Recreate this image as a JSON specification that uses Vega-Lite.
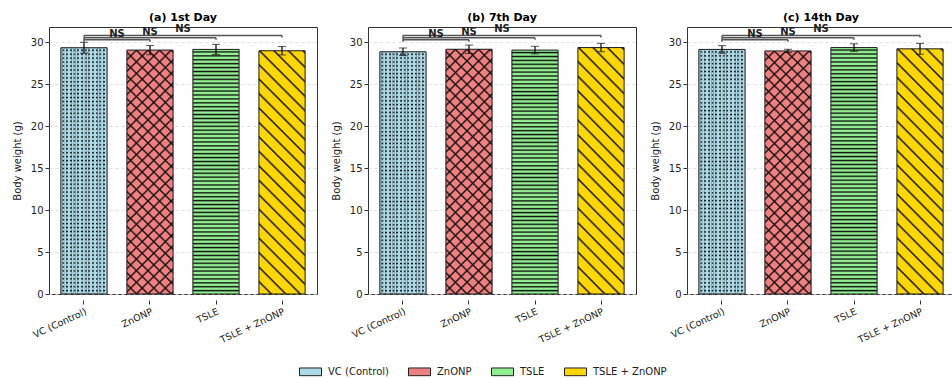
{
"$schema": "https://vega.github.io/schema/vega-lite/v6.json",
"padding": {"left": 11, "top": 12, "right": 0, "bottom": 0},
"background": "white",
"params": [
{"name": "gH", "value": {"gradient": "linear", "x1": 0, "y1": 0, "x2": 0, "y2": 1, "stops": [
{"offset":0,"color":"transparent"},{"offset":0.005,"color":"transparent"},{"offset":0.01,"color":"#111"},
{"offset":0.016,"color":"transparent"},{"offset":0.021,"color":"transparent"},{"offset":0.026,"color":"#111"},
{"offset":0.032,"color":"transparent"},{"offset":0.037,"color":"transparent"},{"offset":0.042,"color":"#111"},
{"offset":0.048,"color":"transparent"},{"offset":0.053,"color":"transparent"},{"offset":0.058,"color":"#111"},
{"offset":0.064,"color":"transparent"},{"offset":0.069,"color":"transparent"},{"offset":0.074,"color":"#111"},
{"offset":0.08,"color":"transparent"},{"offset":0.085,"color":"transparent"},{"offset":0.09,"color":"#111"},
{"offset":0.096,"color":"transparent"},{"offset":0.101,"color":"transparent"},{"offset":0.106,"color":"#111"},
{"offset":0.112,"color":"transparent"},{"offset":0.117,"color":"transparent"},{"offset":0.122,"color":"#111"},
{"offset":0.128,"color":"transparent"},{"offset":0.133,"color":"transparent"},{"offset":0.138,"color":"#111"},
{"offset":0.144,"color":"transparent"},{"offset":0.149,"color":"transparent"},{"offset":0.154,"color":"#111"},
{"offset":0.16,"color":"transparent"},{"offset":0.165,"color":"transparent"},{"offset":0.17,"color":"#111"},
{"offset":0.176,"color":"transparent"},{"offset":0.181,"color":"transparent"},{"offset":0.186,"color":"#111"},
{"offset":0.192,"color":"transparent"},{"offset":0.197,"color":"transparent"},{"offset":0.202,"color":"#111"},
{"offset":0.208,"color":"transparent"},{"offset":0.213,"color":"transparent"},{"offset":0.218,"color":"#111"},
{"offset":0.224,"color":"transparent"},{"offset":0.229,"color":"transparent"},{"offset":0.234,"color":"#111"},
{"offset":0.24,"color":"transparent"},{"offset":0.245,"color":"transparent"},{"offset":0.25,"color":"#111"},
{"offset":0.256,"color":"transparent"},{"offset":0.261,"color":"transparent"},{"offset":0.266,"color":"#111"},
{"offset":0.272,"color":"transparent"},{"offset":0.277,"color":"transparent"},{"offset":0.282,"color":"#111"},
{"offset":0.288,"color":"transparent"},{"offset":0.293,"color":"transparent"},{"offset":0.298,"color":"#111"},
{"offset":0.304,"color":"transparent"},{"offset":0.309,"color":"transparent"},{"offset":0.314,"color":"#111"},
{"offset":0.32,"color":"transparent"},{"offset":0.325,"color":"transparent"},{"offset":0.33,"color":"#111"},
{"offset":0.336,"color":"transparent"},{"offset":0.341,"color":"transparent"},{"offset":0.346,"color":"#111"},
{"offset":0.352,"color":"transparent"},{"offset":0.357,"color":"transparent"},{"offset":0.362,"color":"#111"},
{"offset":0.368,"color":"transparent"},{"offset":0.373,"color":"transparent"},{"offset":0.378,"color":"#111"},
{"offset":0.384,"color":"transparent"},{"offset":0.389,"color":"transparent"},{"offset":0.394,"color":"#111"},
{"offset":0.4,"color":"transparent"},{"offset":0.405,"color":"transparent"},{"offset":0.41,"color":"#111"},
{"offset":0.416,"color":"transparent"},{"offset":0.421,"color":"transparent"},{"offset":0.426,"color":"#111"},
{"offset":0.432,"color":"transparent"},{"offset":0.437,"color":"transparent"},{"offset":0.442,"color":"#111"},
{"offset":0.448,"color":"transparent"},{"offset":0.453,"color":"transparent"},{"offset":0.458,"color":"#111"},
{"offset":0.464,"color":"transparent"},{"offset":0.469,"color":"transparent"},{"offset":0.474,"color":"#111"},
{"offset":0.48,"color":"transparent"},{"offset":0.485,"color":"transparent"},{"offset":0.49,"color":"#111"},
{"offset":0.496,"color":"transparent"},{"offset":0.501,"color":"transparent"},{"offset":0.506,"color":"#111"},
{"offset":0.512,"color":"transparent"},{"offset":0.517,"color":"transparent"},{"offset":0.522,"color":"#111"},
{"offset":0.528,"color":"transparent"},{"offset":0.533,"color":"transparent"},{"offset":0.538,"color":"#111"},
{"offset":0.544,"color":"transparent"},{"offset":0.549,"color":"transparent"},{"offset":0.554,"color":"#111"},
{"offset":0.56,"color":"transparent"},{"offset":0.565,"color":"transparent"},{"offset":0.57,"color":"#111"},
{"offset":0.576,"color":"transparent"},{"offset":0.581,"color":"transparent"},{"offset":0.586,"color":"#111"},
{"offset":0.592,"color":"transparent"},{"offset":0.597,"color":"transparent"},{"offset":0.602,"color":"#111"},
{"offset":0.608,"color":"transparent"},{"offset":0.613,"color":"transparent"},{"offset":0.618,"color":"#111"},
{"offset":0.624,"color":"transparent"},{"offset":0.629,"color":"transparent"},{"offset":0.634,"color":"#111"},
{"offset":0.64,"color":"transparent"},{"offset":0.645,"color":"transparent"},{"offset":0.65,"color":"#111"},
{"offset":0.656,"color":"transparent"},{"offset":0.661,"color":"transparent"},{"offset":0.666,"color":"#111"},
{"offset":0.672,"color":"transparent"},{"offset":0.677,"color":"transparent"},{"offset":0.682,"color":"#111"},
{"offset":0.688,"color":"transparent"},{"offset":0.693,"color":"transparent"},{"offset":0.698,"color":"#111"},
{"offset":0.704,"color":"transparent"},{"offset":0.709,"color":"transparent"},{"offset":0.714,"color":"#111"},
{"offset":0.72,"color":"transparent"},{"offset":0.725,"color":"transparent"},{"offset":0.73,"color":"#111"},
{"offset":0.736,"color":"transparent"},{"offset":0.741,"color":"transparent"},{"offset":0.746,"color":"#111"},
{"offset":0.752,"color":"transparent"},{"offset":0.757,"color":"transparent"},{"offset":0.762,"color":"#111"},
{"offset":0.768,"color":"transparent"},{"offset":0.773,"color":"transparent"},{"offset":0.778,"color":"#111"},
{"offset":0.784,"color":"transparent"},{"offset":0.789,"color":"transparent"},{"offset":0.794,"color":"#111"},
{"offset":0.8,"color":"transparent"},{"offset":0.805,"color":"transparent"},{"offset":0.81,"color":"#111"},
{"offset":0.816,"color":"transparent"},{"offset":0.821,"color":"transparent"},{"offset":0.826,"color":"#111"},
{"offset":0.832,"color":"transparent"},{"offset":0.837,"color":"transparent"},{"offset":0.842,"color":"#111"},
{"offset":0.848,"color":"transparent"},{"offset":0.853,"color":"transparent"},{"offset":0.858,"color":"#111"},
{"offset":0.864,"color":"transparent"},{"offset":0.869,"color":"transparent"},{"offset":0.874,"color":"#111"},
{"offset":0.88,"color":"transparent"},{"offset":0.885,"color":"transparent"},{"offset":0.89,"color":"#111"},
{"offset":0.896,"color":"transparent"},{"offset":0.901,"color":"transparent"},{"offset":0.906,"color":"#111"},
{"offset":0.912,"color":"transparent"},{"offset":0.917,"color":"transparent"},{"offset":0.922,"color":"#111"},
{"offset":0.928,"color":"transparent"},{"offset":0.933,"color":"transparent"},{"offset":0.938,"color":"#111"},
{"offset":0.944,"color":"transparent"},{"offset":0.949,"color":"transparent"},{"offset":0.954,"color":"#111"},
{"offset":0.96,"color":"transparent"},{"offset":0.965,"color":"transparent"},{"offset":0.97,"color":"#111"},
{"offset":0.976,"color":"transparent"},{"offset":0.981,"color":"transparent"},{"offset":0.986,"color":"#111"},
{"offset":0.992,"color":"transparent"},{"offset":1,"color":"transparent"}
]}},
{"name": "gV", "value": {"gradient": "linear", "x1": 0, "y1": 0, "x2": 1, "y2": 0, "stops": [
{"offset":0,"color":"#add8e6"},{"offset":0.03,"color":"#add8e6"},{"offset":0.045,"color":"transparent"},{"offset":0.065,"color":"transparent"},
{"offset":0.08,"color":"#add8e6"},{"offset":0.11,"color":"#add8e6"},{"offset":0.125,"color":"transparent"},{"offset":0.145,"color":"transparent"},
{"offset":0.16,"color":"#add8e6"},{"offset":0.19,"color":"#add8e6"},{"offset":0.205,"color":"transparent"},{"offset":0.225,"color":"transparent"},
{"offset":0.24,"color":"#add8e6"},{"offset":0.27,"color":"#add8e6"},{"offset":0.285,"color":"transparent"},{"offset":0.305,"color":"transparent"},
{"offset":0.32,"color":"#add8e6"},{"offset":0.35,"color":"#add8e6"},{"offset":0.365,"color":"transparent"},{"offset":0.385,"color":"transparent"},
{"offset":0.4,"color":"#add8e6"},{"offset":0.43,"color":"#add8e6"},{"offset":0.445,"color":"transparent"},{"offset":0.465,"color":"transparent"},
{"offset":0.48,"color":"#add8e6"},{"offset":0.51,"color":"#add8e6"},{"offset":0.525,"color":"transparent"},{"offset":0.545,"color":"transparent"},
{"offset":0.56,"color":"#add8e6"},{"offset":0.59,"color":"#add8e6"},{"offset":0.605,"color":"transparent"},{"offset":0.625,"color":"transparent"},
{"offset":0.64,"color":"#add8e6"},{"offset":0.67,"color":"#add8e6"},{"offset":0.685,"color":"transparent"},{"offset":0.705,"color":"transparent"},
{"offset":0.72,"color":"#add8e6"},{"offset":0.75,"color":"#add8e6"},{"offset":0.765,"color":"transparent"},{"offset":0.785,"color":"transparent"},
{"offset":0.8,"color":"#add8e6"},{"offset":0.83,"color":"#add8e6"},{"offset":0.845,"color":"transparent"},{"offset":0.865,"color":"transparent"},
{"offset":0.88,"color":"#add8e6"},{"offset":0.91,"color":"#add8e6"},{"offset":0.925,"color":"transparent"},{"offset":0.945,"color":"transparent"},
{"offset":0.96,"color":"#add8e6"},{"offset":1,"color":"#add8e6"}
]}},
{"name": "gX", "value": {"gradient": "linear", "x1": 0, "y1": 1, "x2": 0.218, "y2": -0.148, "stops": [
{"offset":0,"color":"transparent"},{"offset":0.027,"color":"transparent"},{"offset":0.033,"color":"#111"},
{"offset":0.04,"color":"transparent"},{"offset":0.067,"color":"transparent"},{"offset":0.073,"color":"#111"},
{"offset":0.08,"color":"transparent"},{"offset":0.107,"color":"transparent"},{"offset":0.113,"color":"#111"},
{"offset":0.12,"color":"transparent"},{"offset":0.147,"color":"transparent"},{"offset":0.153,"color":"#111"},
{"offset":0.16,"color":"transparent"},{"offset":0.187,"color":"transparent"},{"offset":0.193,"color":"#111"},
{"offset":0.2,"color":"transparent"},{"offset":0.227,"color":"transparent"},{"offset":0.233,"color":"#111"},
{"offset":0.24,"color":"transparent"},{"offset":0.267,"color":"transparent"},{"offset":0.273,"color":"#111"},
{"offset":0.28,"color":"transparent"},{"offset":0.307,"color":"transparent"},{"offset":0.313,"color":"#111"},
{"offset":0.32,"color":"transparent"},{"offset":0.347,"color":"transparent"},{"offset":0.353,"color":"#111"},
{"offset":0.36,"color":"transparent"},{"offset":0.387,"color":"transparent"},{"offset":0.393,"color":"#111"},
{"offset":0.4,"color":"transparent"},{"offset":0.427,"color":"transparent"},{"offset":0.433,"color":"#111"},
{"offset":0.44,"color":"transparent"},{"offset":0.467,"color":"transparent"},{"offset":0.473,"color":"#111"},
{"offset":0.48,"color":"transparent"},{"offset":0.507,"color":"transparent"},{"offset":0.513,"color":"#111"},
{"offset":0.52,"color":"transparent"},{"offset":0.547,"color":"transparent"},{"offset":0.553,"color":"#111"},
{"offset":0.56,"color":"transparent"},{"offset":0.587,"color":"transparent"},{"offset":0.593,"color":"#111"},
{"offset":0.6,"color":"transparent"},{"offset":0.627,"color":"transparent"},{"offset":0.633,"color":"#111"},
{"offset":0.64,"color":"transparent"},{"offset":0.667,"color":"transparent"},{"offset":0.673,"color":"#111"},
{"offset":0.68,"color":"transparent"},{"offset":0.707,"color":"transparent"},{"offset":0.713,"color":"#111"},
{"offset":0.72,"color":"transparent"},{"offset":0.747,"color":"transparent"},{"offset":0.753,"color":"#111"},
{"offset":0.76,"color":"transparent"},{"offset":0.787,"color":"transparent"},{"offset":0.793,"color":"#111"},
{"offset":0.8,"color":"transparent"},{"offset":0.827,"color":"transparent"},{"offset":0.833,"color":"#111"},
{"offset":0.84,"color":"transparent"},{"offset":0.867,"color":"transparent"},{"offset":0.873,"color":"#111"},
{"offset":0.88,"color":"transparent"},{"offset":0.907,"color":"transparent"},{"offset":0.913,"color":"#111"},
{"offset":0.92,"color":"transparent"},{"offset":0.947,"color":"transparent"},{"offset":0.953,"color":"#111"},
{"offset":0.96,"color":"transparent"},{"offset":0.987,"color":"transparent"},{"offset":0.993,"color":"#111"},
{"offset":1,"color":"transparent"}
]}},
{"name": "gY", "value": {"gradient": "linear", "x1": 0, "y1": 1, "x2": 0.218, "y2": -0.148, "stops": [
{"offset":0,"color":"transparent"},{"offset":0.036,"color":"transparent"},{"offset":0.043,"color":"#111"},
{"offset":0.05,"color":"transparent"},{"offset":0.086,"color":"transparent"},{"offset":0.093,"color":"#111"},
{"offset":0.1,"color":"transparent"},{"offset":0.136,"color":"transparent"},{"offset":0.143,"color":"#111"},
{"offset":0.15,"color":"transparent"},{"offset":0.186,"color":"transparent"},{"offset":0.193,"color":"#111"},
{"offset":0.2,"color":"transparent"},{"offset":0.236,"color":"transparent"},{"offset":0.243,"color":"#111"},
{"offset":0.25,"color":"transparent"},{"offset":0.286,"color":"transparent"},{"offset":0.293,"color":"#111"},
{"offset":0.3,"color":"transparent"},{"offset":0.336,"color":"transparent"},{"offset":0.343,"color":"#111"},
{"offset":0.35,"color":"transparent"},{"offset":0.386,"color":"transparent"},{"offset":0.393,"color":"#111"},
{"offset":0.4,"color":"transparent"},{"offset":0.436,"color":"transparent"},{"offset":0.443,"color":"#111"},
{"offset":0.45,"color":"transparent"},{"offset":0.486,"color":"transparent"},{"offset":0.493,"color":"#111"},
{"offset":0.5,"color":"transparent"},{"offset":0.536,"color":"transparent"},{"offset":0.543,"color":"#111"},
{"offset":0.55,"color":"transparent"},{"offset":0.586,"color":"transparent"},{"offset":0.593,"color":"#111"},
{"offset":0.6,"color":"transparent"},{"offset":0.636,"color":"transparent"},{"offset":0.643,"color":"#111"},
{"offset":0.65,"color":"transparent"},{"offset":0.686,"color":"transparent"},{"offset":0.693,"color":"#111"},
{"offset":0.7,"color":"transparent"},{"offset":0.736,"color":"transparent"},{"offset":0.743,"color":"#111"},
{"offset":0.75,"color":"transparent"},{"offset":0.786,"color":"transparent"},{"offset":0.793,"color":"#111"},
{"offset":0.8,"color":"transparent"},{"offset":0.836,"color":"transparent"},{"offset":0.843,"color":"#111"},
{"offset":0.85,"color":"transparent"},{"offset":0.886,"color":"transparent"},{"offset":0.893,"color":"#111"},
{"offset":0.9,"color":"transparent"},{"offset":0.936,"color":"transparent"},{"offset":0.943,"color":"#111"},
{"offset":0.95,"color":"transparent"},{"offset":0.986,"color":"transparent"},{"offset":0.993,"color":"#111"},
{"offset":1,"color":"transparent"}
]}}
],
"data": {"values": [
{"kind":"bar","day":"(a) 1st Day","group":"VC (Control)","mean":29.33,"sd":0.65},
{"kind":"bar","day":"(a) 1st Day","group":"ZnONP","mean":29.05,"sd":0.55},
{"kind":"bar","day":"(a) 1st Day","group":"TSLE","mean":29.13,"sd":0.6},
{"kind":"bar","day":"(a) 1st Day","group":"TSLE + ZnONP","mean":28.97,"sd":0.5},
{"kind":"bar","day":"(b) 7th Day","group":"VC (Control)","mean":28.85,"sd":0.45},
{"kind":"bar","day":"(b) 7th Day","group":"ZnONP","mean":29.15,"sd":0.5},
{"kind":"bar","day":"(b) 7th Day","group":"TSLE","mean":29.05,"sd":0.45},
{"kind":"bar","day":"(b) 7th Day","group":"TSLE + ZnONP","mean":29.35,"sd":0.5},
{"kind":"bar","day":"(c) 14th Day","group":"VC (Control)","mean":29.13,"sd":0.45},
{"kind":"bar","day":"(c) 14th Day","group":"ZnONP","mean":28.95,"sd":0.2},
{"kind":"bar","day":"(c) 14th Day","group":"TSLE","mean":29.35,"sd":0.45},
{"kind":"bar","day":"(c) 14th Day","group":"TSLE + ZnONP","mean":29.2,"sd":0.65},
{"kind":"br","day":"(a) 1st Day","from":"VC (Control)","to":"ZnONP","h":30.29,"h2":30.04,"mid":"VC (Control)","half":true},
{"kind":"br","day":"(a) 1st Day","from":"VC (Control)","to":"TSLE","h":30.52,"h2":30.27,"mid":"ZnONP","half":false},
{"kind":"br","day":"(a) 1st Day","from":"VC (Control)","to":"TSLE + ZnONP","h":30.8,"h2":30.55,"mid":"ZnONP","half":true},
{"kind":"br","day":"(b) 7th Day","from":"VC (Control)","to":"ZnONP","h":30.29,"h2":30.04,"mid":"VC (Control)","half":true},
{"kind":"br","day":"(b) 7th Day","from":"VC (Control)","to":"TSLE","h":30.52,"h2":30.27,"mid":"ZnONP","half":false},
{"kind":"br","day":"(b) 7th Day","from":"VC (Control)","to":"TSLE + ZnONP","h":30.8,"h2":30.55,"mid":"ZnONP","half":true},
{"kind":"br","day":"(c) 14th Day","from":"VC (Control)","to":"ZnONP","h":30.29,"h2":30.04,"mid":"VC (Control)","half":true},
{"kind":"br","day":"(c) 14th Day","from":"VC (Control)","to":"TSLE","h":30.52,"h2":30.27,"mid":"ZnONP","half":false},
{"kind":"br","day":"(c) 14th Day","from":"VC (Control)","to":"TSLE + ZnONP","h":30.8,"h2":30.55,"mid":"ZnONP","half":true}
]},
"facet": {"column": {"field": "day", "type": "nominal", "title": null,
  "header": {"labelFontSize": 11, "labelFontWeight": "bold", "labelColor": "#000", "labelPadding": 0, "labelFont": "DejaVu Sans"}}},
"spacing": 12,
"resolve": {"axis": {"y": "independent"}},
"spec": {
 "width": 268,
 "height": 267,
 "layer": [
  {"transform": [{"filter": "datum.kind == 'bar'"}],
   "mark": {"type": "bar", "strokeWidth": 0},
   "encoding": {
    "x": {"field": "group", "type": "nominal",
      "scale": {"domain": ["VC (Control)", "ZnONP", "TSLE", "TSLE + ZnONP"], "paddingInner": 0.3, "paddingOuter": 0.18},
      "axis": {"title": null, "labelAngle": -25, "labelFontSize": 9.5, "labelColor": "#222", "tickSize": 4, "tickColor": "#333", "domain": false, "labelPadding": 2, "labelDx": -3}},
    "y": {"field": "mean", "type": "quantitative", "title": "Body weight (g)",
      "scale": {"domain": [0, 31.8], "nice": false, "zero": true},
      "axis": {"title": "Body weight (g)", "titleFontSize": 10, "titleFontWeight": "normal", "titleColor": "#222", "titlePadding": 8,
        "values": [0, 5, 10, 15, 20, 25, 30], "labelFontSize": 10, "labelColor": "#222", "tickSize": 4, "tickColor": "#333",
        "domain": false, "grid": true, "gridDash": [3, 3], "gridColor": "#d8d8d8", "gridWidth": 0.8, "labelPadding": 2}},
    "color": {"field": "group", "type": "nominal",
      "scale": {"domain": ["VC (Control)", "ZnONP", "TSLE", "TSLE + ZnONP"], "range": ["#add8e6", "#f08080", "#90ee90", "#ffd700"]},
      "legend": {"title": null, "orient": "none", "legendX": 250, "legendY": 333, "direction": "horizontal", "symbolType": "M-1,-0.35H1V0.35H-1Z", "symbolSize": 484,
        "symbolStrokeColor": "#222", "symbolStrokeWidth": 1, "symbolOpacity": 1, "labelFontSize": 10, "labelColor": "#222", "labelOffset": 6, "columnPadding": 17}}
   }},
  {"transform": [{"filter": "datum.group == 'VC (Control)'"}],
   "mark": {"type": "bar", "fill": {"expr": "gH"}, "strokeWidth": 0},
   "encoding": {"x": {"field": "group", "type": "nominal"}, "y": {"field": "mean", "type": "quantitative", "title": "Body weight (g)"}}},
  {"transform": [{"filter": "datum.group == 'VC (Control)'"}],
   "mark": {"type": "bar", "fill": {"expr": "gV"}, "strokeWidth": 0},
   "encoding": {"x": {"field": "group", "type": "nominal"}, "y": {"field": "mean", "type": "quantitative", "title": "Body weight (g)"}}},
  {"transform": [{"filter": "datum.group == 'TSLE'"}],
   "mark": {"type": "bar", "fill": {"expr": "gH"}, "strokeWidth": 0},
   "encoding": {"x": {"field": "group", "type": "nominal"}, "y": {"field": "mean", "type": "quantitative", "title": "Body weight (g)"}}},
  {"transform": [{"filter": "datum.group == 'ZnONP'"}],
   "mark": {"type": "bar", "fill": {"expr": "gX"}, "strokeWidth": 0},
   "encoding": {"x": {"field": "group", "type": "nominal"}, "y": {"field": "mean", "type": "quantitative", "title": "Body weight (g)"}}},
  {"transform": [{"filter": "datum.group == 'ZnONP'"}],
   "mark": {"type": "bar", "fill": {"expr": "{gradient: 'linear', x1: 0, y1: 0, x2: 0.218, y2: 1.148, stops: gX.stops}"}, "strokeWidth": 0},
   "encoding": {"x": {"field": "group", "type": "nominal"}, "y": {"field": "mean", "type": "quantitative", "title": "Body weight (g)"}}},
  {"transform": [{"filter": "datum.group == 'TSLE + ZnONP'"}],
   "mark": {"type": "bar", "fill": {"expr": "gY"}, "strokeWidth": 0},
   "encoding": {"x": {"field": "group", "type": "nominal"}, "y": {"field": "mean", "type": "quantitative", "title": "Body weight (g)"}}},
  {"transform": [{"filter": "datum.kind == 'bar'"}],
   "mark": {"type": "bar", "fillOpacity": 0, "stroke": "#1a1a1a", "strokeWidth": 1},
   "encoding": {"x": {"field": "group", "type": "nominal"}, "y": {"field": "mean", "type": "quantitative", "title": "Body weight (g)"}}},
  {"transform": [{"filter": "datum.kind == 'bar'"}],
   "mark": {"type": "errorbar", "ticks": {"size": 8, "color": "#111", "strokeWidth": 1.3}, "rule": {"color": "#111", "strokeWidth": 1.3}},
   "encoding": {"x": {"field": "group", "type": "nominal"}, "y": {"field": "mean", "type": "quantitative", "title": "Body weight (g)"}, "yError": {"field": "sd"}}},
  {"transform": [{"filter": "datum.kind == 'br'"}],
   "mark": {"type": "rule", "color": "#555", "strokeWidth": 1.5},
   "encoding": {"x": {"field": "from", "type": "nominal"}, "x2": {"field": "to"}, "y": {"field": "h", "type": "quantitative", "title": "Body weight (g)"}}},
  {"transform": [{"filter": "datum.kind == 'br'"}],
   "mark": {"type": "rule", "color": "#555", "strokeWidth": 1.5},
   "encoding": {"x": {"field": "from", "type": "nominal"}, "y": {"field": "h", "type": "quantitative", "title": "Body weight (g)"}, "y2": {"field": "h2"}}},
  {"transform": [{"filter": "datum.kind == 'br'"}],
   "mark": {"type": "rule", "color": "#555", "strokeWidth": 1.5},
   "encoding": {"x": {"field": "to", "type": "nominal"}, "y": {"field": "h", "type": "quantitative", "title": "Body weight (g)"}, "y2": {"field": "h2"}}},
  {"transform": [{"filter": "datum.kind == 'br' && datum.half"}],
   "mark": {"type": "text", "text": "NS", "fontWeight": "bold", "fontSize": 10, "dy": -6, "baseline": "middle", "color": "#222"},
   "encoding": {"x": {"field": "mid", "type": "nominal", "bandPosition": 1.214}, "y": {"field": "h", "type": "quantitative", "title": "Body weight (g)"}}},
  {"transform": [{"filter": "datum.kind == 'br' && !datum.half"}],
   "mark": {"type": "text", "text": "NS", "fontWeight": "bold", "fontSize": 10, "dy": -6, "baseline": "middle", "color": "#222"},
   "encoding": {"x": {"field": "mid", "type": "nominal", "bandPosition": 0.5}, "y": {"field": "h", "type": "quantitative", "title": "Body weight (g)"}}}
 ]
},
"config": {
 "font": "DejaVu Sans",
 "view": {"stroke": "#333", "strokeWidth": 1},
 "axis": {"labelFont": "DejaVu Sans", "titleFont": "DejaVu Sans"},
 "legend": {"labelFont": "DejaVu Sans"}
}
}
